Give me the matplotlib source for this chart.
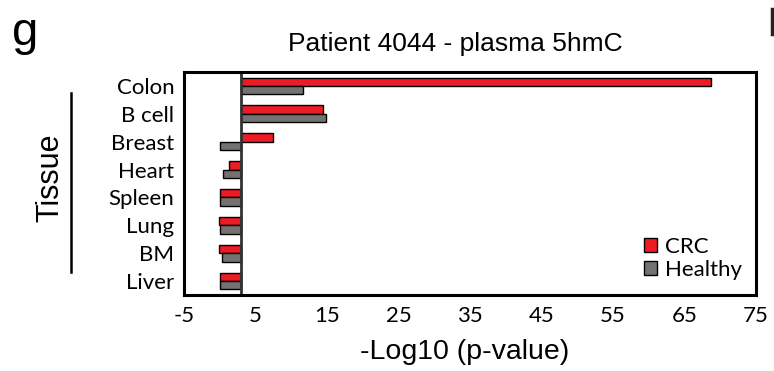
import matplotlib.pyplot as plt
import numpy as np
from matplotlib.patches import Patch
from matplotlib.lines import Line2D

tissues = ["Colon", "B cell", "Breast", "Heart", "Spleen", "Lung", "BM", "Liver"]
crc = [68.7, 14.5, 7.5, 1.3, 0.0, -0.1, -0.1, 0.0]
healthy = [11.6, 14.9, 0.0, 0.5, 0.0, 0.0, 0.3, 0.0]
base = 3.0  # value where the vertical axis crosses
xticks = [-5, 5, 15, 25, 35, 45, 55, 65, 75]

RED = "#ed1c24"
GRAY = "#767171"
ARIAL = "Liberation Sans"
CALIBRI = "Lato"

W, H = 774, 371
fig = plt.figure(figsize=(W / 100, H / 100), dpi=100)
ax = fig.add_axes([184 / W, 1 - 295 / H, (756 - 184) / W, (295 - 72) / H])

y = np.arange(len(tissues))
bh = 0.3
ax.barh(y - bh / 2, np.array(crc) - base, left=base, height=bh, color=RED,
        edgecolor="black", linewidth=1.0, label="CRC")
ax.barh(y + bh / 2, np.array(healthy) - base, left=base, height=bh, color=GRAY,
        edgecolor="black", linewidth=1.0, label="Healthy")
ax.axvline(base, color="#333333", lw=2)

ax.set_xlim(-5, 75)
ax.set_ylim(len(tissues) - 0.5, -0.5)
ax.set_xticks(xticks)
ax.set_xticklabels([str(t) for t in xticks], fontfamily=CALIBRI, fontsize=16)
ax.set_yticks(y)
ax.set_yticklabels(tissues, fontfamily=CALIBRI, fontsize=16)
ax.tick_params(length=0)
ax.tick_params(axis="x", pad=8)
ax.tick_params(axis="y", pad=7)
for s in ax.spines.values():
    s.set_linewidth(2.2)

handles = [Patch(facecolor=RED, edgecolor="black", lw=1.0),
           Patch(facecolor=GRAY, edgecolor="black", lw=1.0)]
ax.legend(handles, ["CRC", "Healthy"], frameon=False, loc="lower right",
          bbox_to_anchor=(742 / W, 1 - 280 / H), bbox_transform=fig.transFigure,
          prop={"family": CALIBRI, "size": 16}, handlelength=0.6, handleheight=0.6,
          handletextpad=0.35, labelspacing=0.15, borderaxespad=0, borderpad=0)

fig.text(455 / W, 1 - 44 / H, "Patient 4044 - plasma 5hmC", ha="center", va="center",
         fontfamily=ARIAL, fontsize=19)
fig.text(465 / W, 1 - 352 / H, "-Log10 (p-value)", ha="center", va="center",
         fontfamily=ARIAL, fontsize=20.5)
fig.text(50 / W, 1 - 178 / H, "Tissue", ha="center", va="center", rotation=90,
         fontfamily=ARIAL, fontsize=22)
fig.add_artist(Line2D([71 / W, 71 / W], [1 - 93 / H, 1 - 272 / H], color="black", lw=1.8))
fig.text(12 / W, 1 - 45 / H, "g", ha="left", va="baseline", fontfamily=ARIAL, fontsize=34)
# stem of the next panel's letter, cut by the figure edge
fig.add_artist(Line2D([772 / W, 772 / W], [1 - 9 / H, 1 - 34 / H], color="#222222", lw=2.5))

fig.savefig("out.png", dpi=100)
